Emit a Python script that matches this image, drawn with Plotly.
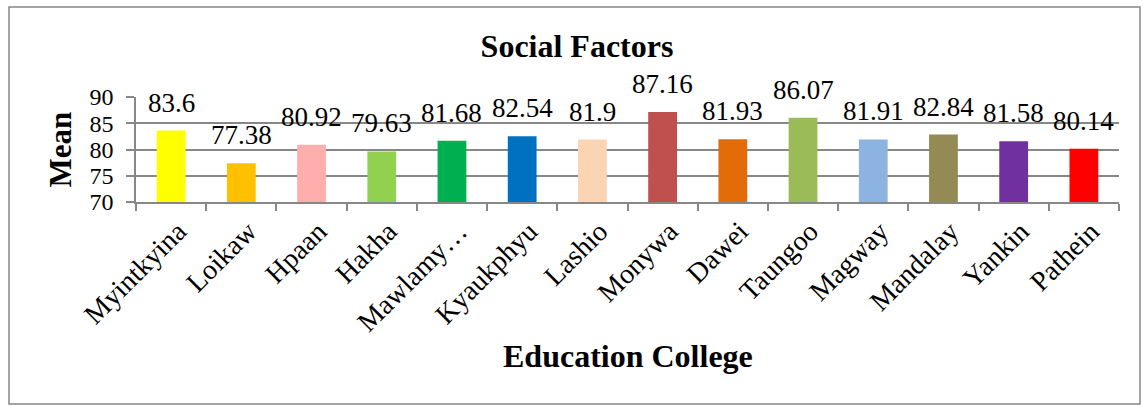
import plotly.graph_objects as go

# ---- data ----
colleges = ["Myintkyina", "Loikaw", "Hpaan", "Hakha", "Mawlamy…", "Kyaukphyu", "Lashio",
            "Monywa", "Dawei", "Taungoo", "Magway", "Mandalay", "Yankin", "Pathein"]
means = [83.6, 77.38, 80.92, 79.63, 81.68, 82.54, 81.9, 87.16, 81.93, 86.07, 81.91, 82.84, 81.58, 80.14]
mean_labels = ["83.6", "77.38", "80.92", "79.63", "81.68", "82.54", "81.9",
               "87.16", "81.93", "86.07", "81.91", "82.84", "81.58", "80.14"]
bar_colors = ["#FFFF00", "#FFC000", "#FFAEAE", "#92D050", "#00B050", "#0070C0", "#FBD4B4",
              "#C0504D", "#E36C09", "#9BBB59", "#8DB3E2", "#948A54", "#7030A0", "#FF0000"]
y_ticks = [70, 75, 80, 85, 90]

FONT = "Liberation Serif, Times New Roman, serif"
GRID = "#878787"

fig = go.Figure()
fig.add_trace(go.Bar(
    x=colleges, y=means, marker=dict(color=bar_colors, line=dict(width=0)),
    width=0.41, showlegend=False, hoverinfo="x+y",
))

annotations = []
for c, v, t in zip(colleges, means, mean_labels):
    annotations.append(dict(x=c, y=v, text=t, xref="x", yref="y", showarrow=False,
                            yanchor="bottom", yshift=11,
                            font=dict(family=FONT, size=27, color="black")))

# axis titles
annotations.append(dict(x=0.5, y=-1.47, xref="paper", yref="paper", text="<b>Education College</b>",
                        showarrow=False, xanchor="center", yanchor="middle",
                        font=dict(family=FONT, size=32, color="black")))
annotations.append(dict(x=-0.0763, y=0.5, xref="paper", yref="paper", text="<b>Mean</b>",
                        showarrow=False, textangle=-90, xanchor="center", yanchor="middle",
                        font=dict(family=FONT, size=31, color="black")))

fig.update_layout(
    width=1143, height=406, autosize=False,
    margin=dict(l=136, r=24, t=97, b=204),
    paper_bgcolor="white", plot_bgcolor="white",
    title=dict(text="<b>Social Factors</b>", x=577 / 1143, xanchor="center",
               y=(406 - 46) / 406, yanchor="middle", xref="container", yref="container",
               font=dict(family=FONT, size=32, color="black")),
    annotations=annotations,
    shapes=[dict(type="rect", xref="paper", yref="paper",
                 x0=(9 - 136) / 983, x1=(1140 - 136) / 983,
                 y0=(202 - 404) / 105, y1=(202 - 7) / 105,
                 line=dict(color="#868686", width=1.5), fillcolor="rgba(0,0,0,0)", layer="below")],
)

fig.update_xaxes(
    type="category", range=[-0.5, len(colleges) - 0.5],
    showline=True, linecolor=GRID, linewidth=1.5,
    ticks="outside", tickson="boundaries", ticklen=7, tickcolor=GRID, tickwidth=1.5,
    tickangle=-45, tickfont=dict(family=FONT, size=28, color="black"),
    ticklabelshift=7,
    showgrid=False, zeroline=False,
)
fig.update_yaxes(
    range=[70, 90], tickvals=y_ticks, ticktext=[str(v) for v in y_ticks],
    showgrid=True, gridcolor=GRID, gridwidth=1.5,
    showline=True, linecolor=GRID, linewidth=1.5,
    ticks="outside", ticklen=8, tickcolor=GRID, tickwidth=1.5,
    tickfont=dict(family=FONT, size=24, color="black"), ticklabelstandoff=8,
    zeroline=False,
)

fig.write_html("out.html")
